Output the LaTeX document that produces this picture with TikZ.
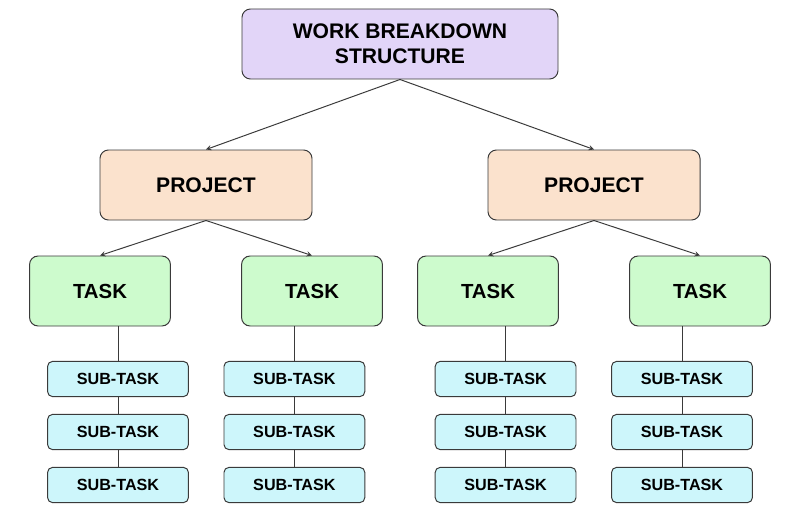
\documentclass[tikz,border=0pt]{standalone}
\usepackage{fontspec}
\setmainfont{Liberation Sans}
\usepackage{xcolor}
\usetikzlibrary{arrows,positioning,shapes}

\definecolor{wbsfill}{HTML}{E2D5F8}
\definecolor{projfill}{HTML}{FBE2CD}
\definecolor{taskfill}{HTML}{CDFBCD}
\definecolor{subfill}{HTML}{CDF6FB}
\definecolor{edgegray}{HTML}{3A3A3A}

\begin{document}
\begin{tikzpicture}[
    box/.style={draw=edgegray, line width=0.7pt, rounded corners=6pt, align=center, font=\bfseries\fontsize{15}{17.5}\selectfont, inner sep=0pt},
    wbs/.style={box, fill=wbsfill, minimum width=7.9cm, minimum height=1.75cm},
    proj/.style={box, fill=projfill, minimum width=5.3cm, minimum height=1.75cm},
    task/.style={box, fill=taskfill, minimum width=3.52cm, minimum height=1.75cm, font=\bfseries\fontsize{14.5}{17}\selectfont},
    subtask/.style={box, fill=subfill, rounded corners=3.5pt, minimum width=3.52cm, minimum height=0.88cm, font=\bfseries\fontsize{11.5}{13}\selectfont},
    link/.style={draw=edgegray, line width=0.7pt},
    >=stealth
]
    \useasboundingbox (0,0) rectangle (20,12.95);

    % 最上位
    \node[wbs] (wbs) at (10,11.85) {WORK BREAKDOWN\\STRUCTURE};

    % プロジェクト
    \node[proj] (p1) at (5.15,8.325) {PROJECT};
    \node[proj] (p2) at (14.85,8.325) {PROJECT};

    % タスク
    \node[task] (t1) at (2.5,5.675) {TASK};
    \node[task] (t2) at (7.8,5.675) {TASK};
    \node[task] (t3) at (12.2,5.675) {TASK};
    \node[task] (t4) at (17.5,5.675) {TASK};

    % サブタスク
    \node[subtask] (s11) at (2.95,3.475) {SUB-TASK};
    \node[subtask] (s12) at (2.95,2.15) {SUB-TASK};
    \node[subtask] (s13) at (2.95,0.825) {SUB-TASK};
    \node[subtask] (s21) at (7.36,3.475) {SUB-TASK};
    \node[subtask] (s22) at (7.36,2.15) {SUB-TASK};
    \node[subtask] (s23) at (7.36,0.825) {SUB-TASK};
    \node[subtask] (s31) at (12.64,3.475) {SUB-TASK};
    \node[subtask] (s32) at (12.64,2.15) {SUB-TASK};
    \node[subtask] (s33) at (12.64,0.825) {SUB-TASK};
    \node[subtask] (s41) at (17.05,3.475) {SUB-TASK};
    \node[subtask] (s42) at (17.05,2.15) {SUB-TASK};
    \node[subtask] (s43) at (17.05,0.825) {SUB-TASK};

    % 矢印
    \draw[link, ->] (wbs.south) -- (p1.north);
    \draw[link, ->] (wbs.south) -- (p2.north);
    \draw[link, ->] (p1.south) -- (t1.north);
    \draw[link, ->] (p1.south) -- (t2.north);
    \draw[link, ->] (p2.south) -- (t3.north);
    \draw[link, ->] (p2.south) -- (t4.north);

    % 縦の線
    \draw[link] (t1.south -| s11.north) -- (s11.north);
    \draw[link] (s11) -- (s12) -- (s13);
    \draw[link] (t2.south -| s21.north) -- (s21.north);
    \draw[link] (s21) -- (s22) -- (s23);
    \draw[link] (t3.south -| s31.north) -- (s31.north);
    \draw[link] (s31) -- (s32) -- (s33);
    \draw[link] (t4.south -| s41.north) -- (s41.north);
    \draw[link] (s41) -- (s42) -- (s43);
\end{tikzpicture}
\end{document}
